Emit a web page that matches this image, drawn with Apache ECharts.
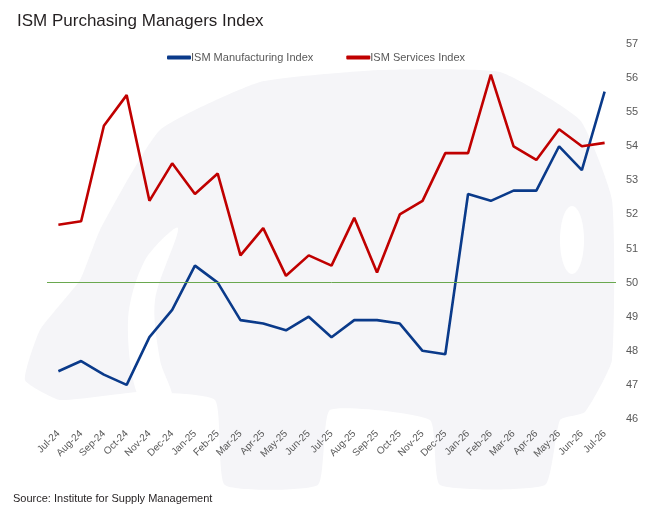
<!DOCTYPE html>
<html>
<head>
<meta charset="utf-8">
<script src="https://cdn.jsdelivr.net/npm/echarts@6/dist/echarts.min.js"></script>
<style>
  html, body { margin: 0; padding: 0; background: #fff; }
  #chart { width: 666px; height: 515px; }
</style>
</head>
<body>
<div id="chart"></div>
<script>
var chart = echarts.init(document.getElementById('chart'));

var months = ['Jul-24', 'Aug-24', 'Sep-24', 'Oct-24', 'Nov-24', 'Dec-24', 'Jan-25', 'Feb-25', 'Mar-25',
    'Apr-25', 'May-25', 'Jun-25', 'Jul-25', 'Aug-25', 'Sep-25', 'Oct-25', 'Nov-25', 'Dec-25',
    'Jan-26', 'Feb-26', 'Mar-26', 'Apr-26', 'May-26', 'Jun-26', 'Jul-26'];
var manufacturing = [47.4, 47.7, 47.3, 47.0, 48.4, 49.2, 50.5, 50.0, 48.9, 48.8, 48.6, 49.0, 48.4,
    48.9, 48.9, 48.8, 48.0, 47.9, 52.6, 52.4, 52.7, 52.7, 54.0, 53.3, 55.6];
var services = [51.7, 51.8, 54.6, 55.5, 52.4, 53.5, 52.6, 53.2, 50.8, 51.6, 50.2, 50.8, 50.5,
    51.9, 50.3, 52.0, 52.4, 53.8, 53.8, 56.1, 54.0, 53.6, 54.5, 54.0, 54.1];
var threshold = 50;

var font = '"Liberation Sans", Arial, sans-serif';
var labelColor = '#595959';

option = {
    backgroundColor: '#fff',
    animation: false,
    // faint bull watermark behind the plot
    graphic: [{
        type: 'polygon',
        z: -10,
        silent: true,
        shape: {
            smooth: 0.15,
            points: [[100, 230], [160, 130], [260, 82], [380, 70], [500, 72], [580, 120], [612, 200],
                [612, 360], [585, 412], [560, 420], [545, 485], [440, 485], [430, 420], [330, 410],
                [318, 485], [225, 485], [215, 400], [140, 392], [60, 400], [25, 380], [40, 330], [80, 280]]
        },
        style: { fill: '#f5f5f8' }
    }, {
        type: 'polygon',
        z: -9,
        silent: true,
        shape: {
            smooth: 0.3,
            points: [[140, 400], [128, 320], [145, 260], [178, 228], [155, 300], [160, 360], [172, 400]]
        },
        style: { fill: '#ffffff' }
    }, {
        type: 'ellipse',
        z: -9,
        silent: true,
        shape: { cx: 572, cy: 240, rx: 12, ry: 34 },
        style: { fill: '#ffffff' }
    }],
    title: [{
        text: 'ISM Purchasing Managers Index',
        left: 12,
        top: 8,
        textStyle: { fontFamily: font, fontSize: 17, fontWeight: 'normal', color: '#231f20' }
    }, {
        text: 'Source: Institute for Supply Management',
        left: 8,
        top: 488,
        textStyle: { fontFamily: font, fontSize: 11, fontWeight: 'normal', color: '#231f20' }
    }],
    legend: {
        top: 47,
        left: 162,
        itemGap: 33,
        itemWidth: 24,
        itemHeight: 4,
        icon: 'roundRect',
        textStyle: { color: labelColor, fontSize: 11, fontFamily: font, padding: [0, 0, 0, -5] },
        data: ['ISM Manufacturing Index', 'ISM Services Index']
    },
    grid: {
        left: 47,
        right: 50,
        top: 44,
        bottom: 96
    },
    xAxis: {
        type: 'category',
        boundaryGap: true,
        data: months,
        axisLine: { show: false },
        axisTick: { show: false },
        splitLine: { show: false },
        axisLabel: {
            rotate: 45,
            interval: 0,
            color: labelColor,
            fontSize: 10,
            fontFamily: font,
            margin: 13
        }
    },
    yAxis: {
        type: 'value',
        position: 'right',
        min: 46,
        max: 57,
        interval: 1,
        axisLine: { show: false },
        axisTick: { show: false },
        splitLine: { show: false },
        axisLabel: { color: labelColor, fontSize: 11, fontFamily: font, margin: 10 }
    },
    series: [{
        name: 'ISM Manufacturing Index',
        type: 'line',
        data: manufacturing,
        symbol: 'none',
        color: '#0a3a8a',
        lineStyle: { width: 2.6, color: '#0a3a8a' },
        markLine: {
            silent: true,
            symbol: 'none',
            label: { show: false },
            lineStyle: { color: '#6aa84f', width: 1, type: 'solid' },
            data: [{ yAxis: threshold }]
        }
    }, {
        name: 'ISM Services Index',
        type: 'line',
        data: services,
        symbol: 'none',
        color: '#c00000',
        lineStyle: { width: 2.6, color: '#c00000' }
    }]
};

chart.setOption(option);
</script>
</body>
</html>
